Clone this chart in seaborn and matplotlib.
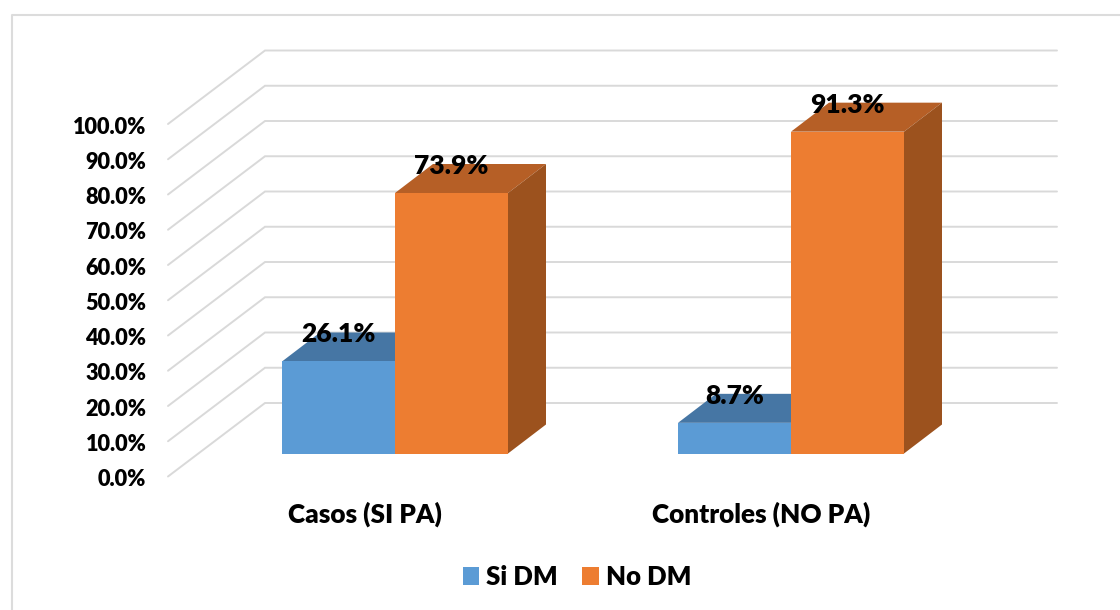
import numpy as np
import pandas as pd
import matplotlib
matplotlib.use('Agg')
import matplotlib.pyplot as plt
from matplotlib.lines import Line2D
from matplotlib.patches import Polygon
from matplotlib.transforms import ScaledTranslation
import seaborn as sns

categories = ['Casos (SI PA)', 'Controles (NO PA)']
series_names = ['Si DM', 'No DM']
si_dm = [26.1, 8.7]
no_dm = [73.9, 91.3]
y_ticks = [0, 10, 20, 30, 40, 50, 60, 70, 80, 90, 100]

colors = ['#5B9BD5', '#ED7D31']
top_colors = ['#4676A4', '#B65F26']
side_colors = ['#3F6B96', '#9C521E']
grid_color = '#D9D9D9'

df = pd.DataFrame({
    'cat': categories * 2,
    'serie': [series_names[0]] * 2 + [series_names[1]] * 2,
    'val': si_dm + no_dm,
})

sns.set_theme(style='white')
plt.rcParams['font.family'] = ['Lato', 'DejaVu Sans']
plt.rcParams['font.weight'] = 'heavy'

W, H = 1120, 610
fig = plt.figure(figsize=(W / 100, H / 100), dpi=100)
# axes box in pixels: 168..1057 across, 49..476 down
ax = fig.add_axes([168 / W, (H - 476.5) / H, (1057 - 168) / W, (476.5 - 49.5) / H])

px_y = 3.525   # pixels per 1%
px_x = 396.0   # pixels per category
floor = 23 / px_y   # front wall sits below the bar base
wall_dx, wall_dy = 97 / px_x, 73.5 / px_y
bar_dx, bar_dy = 38 / px_x, 29 / px_y

sns.barplot(data=df, x='cat', y='val', hue='serie', palette=colors, width=226 / px_x,
            gap=0, saturation=1, linewidth=0, legend=False, ax=ax, zorder=3)
ax.set_xlim(-227 / px_x, 662 / px_x)
ax.set_ylim(-floor, 404 / px_y)

# walls
x0 = ax.get_xlim()[0]
x1 = ax.get_xlim()[1]
for t in y_ticks:
    ax.plot([x0, x0 + wall_dx, x1], [t - floor, t - floor + wall_dy, t - floor + wall_dy],
            color=grid_color, lw=1.4, zorder=1, clip_on=False, solid_joinstyle='miter')

# fake depth on the bars
for i, cont in enumerate(ax.containers):
    for bar in cont:
        a = bar.get_x()
        b = a + bar.get_width()
        h = bar.get_height()
        bar.set_zorder(3 + i * 2)
        ax.add_patch(Polygon([(a, h), (b, h), (b + bar_dx, h + bar_dy), (a + bar_dx, h + bar_dy)],
                             closed=True, fc=top_colors[i], ec='none', zorder=2 + i * 2))
        ax.add_patch(Polygon([(b, 0), (b + bar_dx, bar_dy), (b + bar_dx, h + bar_dy), (b, h)],
                             closed=True, fc=side_colors[i], ec='none', zorder=2 + i * 2))
        ax.annotate('%.1f%%' % h, ((a + b) / 2, h), xytext=(0, 19.5), textcoords='offset points',
                    ha='center', va='center', fontsize=19, fontweight='heavy', color='black', zorder=10)

ax.set_yticks(np.array(y_ticks) - floor, ['%.1f%%' % t for t in y_ticks])
ax.set_xticks(np.arange(len(categories)) - 30 / px_x, categories)
ax.tick_params(axis='y', length=0, pad=15.5, labelsize=15.7)
ax.tick_params(axis='x', length=0, pad=18, labelsize=18.8)
for lab in ax.get_yticklabels() + ax.get_xticklabels():
    lab.set_fontweight('heavy')
    lab.set_color('black')
down = ScaledTranslation(0, -1.2 / 100, fig.dpi_scale_trans)
for lab in ax.get_yticklabels():
    lab.set_transform(lab.get_transform() + down)
ax.set_xlabel('')
ax.set_ylabel('')
sns.despine(ax=ax, left=True, bottom=True)

handles = [plt.Rectangle((0, 0), 1, 1, fc=c, ec='none') for c in colors]
fig.legend(handles, series_names, ncols=2, loc='center', bbox_to_anchor=(577 / W, (H - 577) / H),
           frameon=False, fontsize=18.5, handlelength=0.65, handleheight=0.65,
           handletextpad=0.27, columnspacing=0.95, labelcolor='black')

# chart frame, runs off the picture on the right and bottom
fig.add_artist(Line2D([11.5 / W, 11.5 / W, 1], [0, (H - 15) / H, (H - 15) / H],
                      color='#DCDCDC', lw=1.5, transform=fig.transFigure))

plt.savefig('out.png', dpi=100)
